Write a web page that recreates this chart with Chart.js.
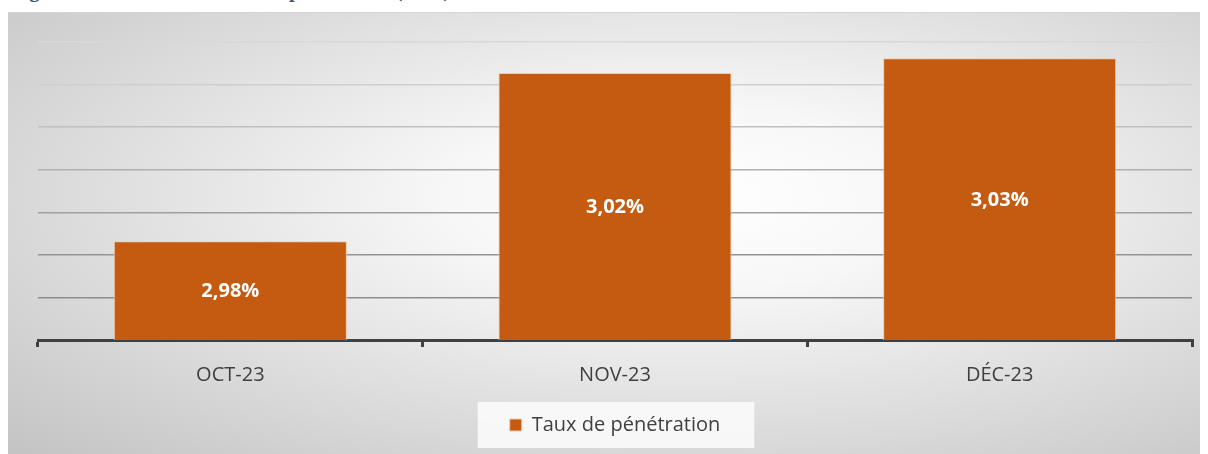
<!DOCTYPE html>
<html>
<head>
<meta charset="utf-8">
<script src="https://cdn.jsdelivr.net/npm/chart.js@4.4.0/dist/chart.umd.min.js"></script>
<style>
  html, body { margin: 0; padding: 0; background: #fff; width: 1208px; height: 454px; overflow: hidden; }
  #title {
    position: absolute; left: 11px; top: -21px; line-height: 21px;
    font: bold 20.5px "Liberation Serif", serif; color: #3e5478; white-space: nowrap;
  }
  #box {
    position: absolute; left: 8px; top: 12px; width: 1192px; height: 442px;
    border-top: 1px solid #d4d4d4;
    background: radial-gradient(ellipse farthest-corner at 57% 42%, #ffffff 0%, #f7f7f7 25%, #c3c3c3 100%);
  }
</style>
</head>
<body>
<div id="title">Figure 4 : Evolution du taux de pénétration (2023)</div>
<div id="box"><canvas id="chart" width="1192" height="442"></canvas></div>
<script>
const months = ['OCT-23', 'NOV-23', 'DÉC-23'];
const penetration = [2.9832, 3.0227, 3.0262];
const seriesName = 'Taux de pénétration';

// value labels centred in the visible part of each bar
const barLabels = {
    id: 'barLabels',
    afterDatasetsDraw(chart) {
        const c = chart.ctx;
        const meta = chart.getDatasetMeta(0);
        const bottom = chart.chartArea.bottom;
        c.save();
        c.font = 'bold 20px "Open Sans", sans-serif';
        c.fillStyle = '#ffffff';
        c.textAlign = 'center';
        c.textBaseline = 'middle';
        meta.data.forEach((bar, i) => {
            const txt = penetration[i].toFixed(2).replace('.', ',') + '%';
            const base = Math.min(bar.base, bottom);
            c.fillText(txt, bar.x, (bar.y + base) / 2 + 1);
        });
        c.restore();
    }
};

// light box behind the legend
const legendBox = {
    id: 'legendBox',
    beforeDraw(chart) {
        const hb = chart.legend && chart.legend.legendHitBoxes && chart.legend.legendHitBoxes[0];
        if (!hb) return;
        const c = chart.ctx;
        c.save();
        c.fillStyle = 'rgba(250,250,250,0.92)';
        c.fillRect(hb.left - 32, hb.top - 13, hb.width + 66, hb.height + 26);
        c.restore();
    }
};

new Chart(document.getElementById('chart'), {
    type: 'bar',
    data: {
        labels: months,
        datasets: [{
            label: seriesName,
            data: penetration,
            backgroundColor: '#c55a11',
            borderColor: '#f2c9aa',
            borderWidth: 1,
            barPercentage: 0.606,
            categoryPercentage: 1
        }]
    },
    options: {
        responsive: false,
        animation: false,
        layout: { padding: { left: 30, right: 8, top: 29, bottom: 10 } },
        scales: {
            x: {
                grid: {
                    offset: true,
                    drawOnChartArea: false,
                    drawTicks: true,
                    tickLength: 7,
                    color: '#404040',
                    lineWidth: 3
                },
                border: { color: '#404040', width: 3 },
                ticks: {
                    color: '#404040',
                    font: { family: '"Open Sans"', size: 20 },
                    padding: 16
                }
            },
            y: {
                min: 2.96,
                max: 3.03,
                ticks: { display: false, stepSize: 0.01 },
                border: { display: false },
                grid: {
                    drawTicks: false,
                    lineWidth: 1.5,
                    color: ctx => {
                        const shades = ['#a0a0a0', '#8e8e8e', '#949494', '#a0a0a0', '#b0b0b0', '#c0c0c0', '#cfcfcf', '#d8d8d8'];
                        return shades[ctx.index] || '#c0c0c0';
                    }
                }
            }
        },
        plugins: {
            legend: {
                position: 'bottom',
                labels: {
                    color: '#404040',
                    font: { family: '"Open Sans"', size: 20 },
                    boxWidth: 12,
                    boxHeight: 12,
                    padding: 12
                }
            },
            tooltip: { enabled: false }
        }
    },
    plugins: [barLabels, legendBox]
});
</script>
</body>
</html>
